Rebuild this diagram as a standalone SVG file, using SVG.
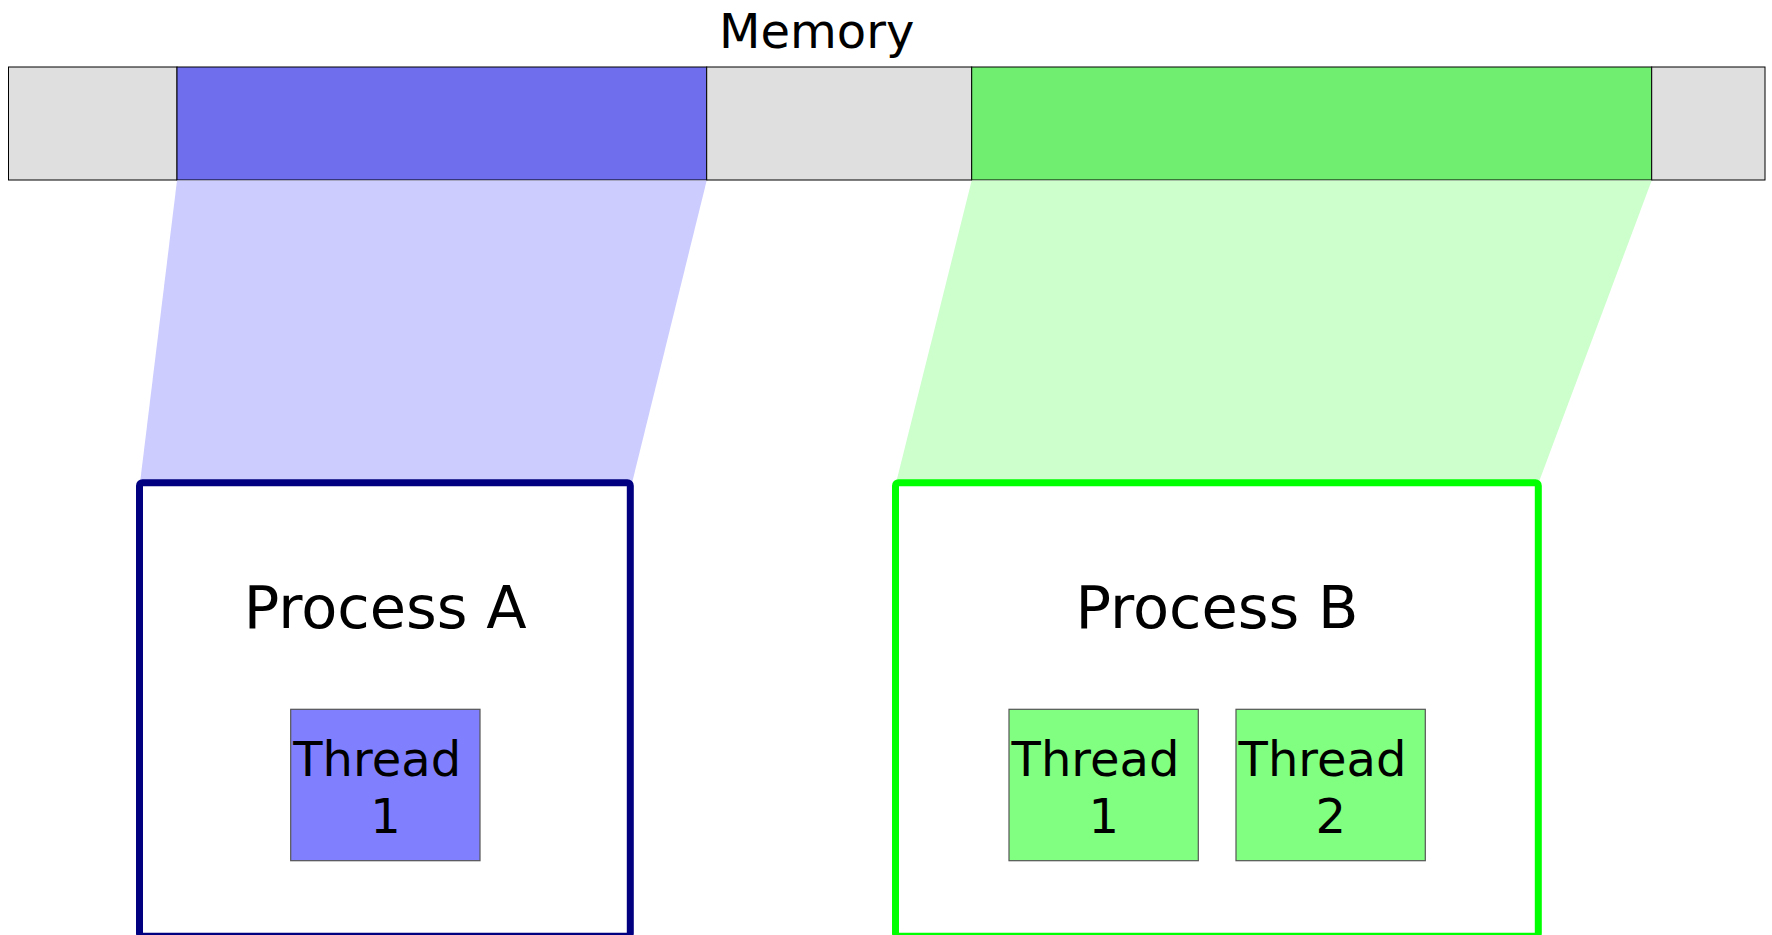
<svg xmlns="http://www.w3.org/2000/svg" width="1772" height="935" viewBox="0 0 1772 935">
<style>
  text { font-family: "DejaVu Sans", "Liberation Sans", sans-serif; fill: #000; }
  .mem { stroke: #000; stroke-width: 1; }
  .gray { fill: #dfdfdf; }
  .proc { fill: #fff; stroke-width: 7; stroke-linejoin: round; }
  .thread { stroke: #555; stroke-width: 1.2; }
  .t48 { font-size: 48px; }
  .t59 { font-size: 59px; text-anchor: middle; }
</style>
<rect width="1772" height="935" fill="#fff"/>
<g id="memory">
  <text class="t48" x="816.7" y="48.3" text-anchor="middle">Memory</text>
  <rect class="mem gray" x="8.5" y="67" width="168.5" height="113"/>
  <rect class="mem" x="177" y="67" width="529.7" height="113" fill="#6f6fee"/>
  <rect class="mem gray" x="706.7" y="67" width="265" height="113"/>
  <rect class="mem" x="971.7" y="67" width="680" height="113" fill="#70ee70"/>
  <rect class="mem gray" x="1651.7" y="67" width="113.3" height="113"/>
</g>
<g id="connectors">
  <polygon points="177,180.5 706.7,180.5 632,483 140,483" fill="#ccccff"/>
  <polygon points="971.7,180.5 1651.7,180.5 1538.5,483 896,483" fill="#ccffcc"/>
</g>
<g id="processA">
  <rect class="proc" x="139.5" y="482.7" width="490.8" height="453.5" rx="3" stroke="#000080"/>
  <text class="t59" x="385.2" y="628.3">Process A</text>
</g>
<g id="threadA1">
  <rect class="thread" x="290.7" y="709.3" width="189.3" height="151.4" fill="#8080ff"/>
  <text class="t48" x="293.3" y="776">Thread</text>
  <text class="t48" x="385.5" y="833.3" text-anchor="middle">1</text>
</g>
<g id="processB">
  <rect class="proc" x="895.5" y="482.7" width="642.8" height="453.5" rx="3" stroke="#00ff00"/>
  <text class="t59" x="1216.9" y="628.3">Process B</text>
</g>
<g id="threadB1">
  <rect class="thread" x="1009" y="709.3" width="189.3" height="151.4" fill="#80ff80"/>
  <text class="t48" x="1011.6" y="776">Thread</text>
  <text class="t48" x="1103.8" y="833.3" text-anchor="middle">1</text>
</g>
<g id="threadB2">
  <rect class="thread" x="1236" y="709.3" width="189.3" height="151.4" fill="#80ff80"/>
  <text class="t48" x="1238.6" y="776">Thread</text>
  <text class="t48" x="1330.8" y="833.3" text-anchor="middle">2</text>
</g>
</svg>
